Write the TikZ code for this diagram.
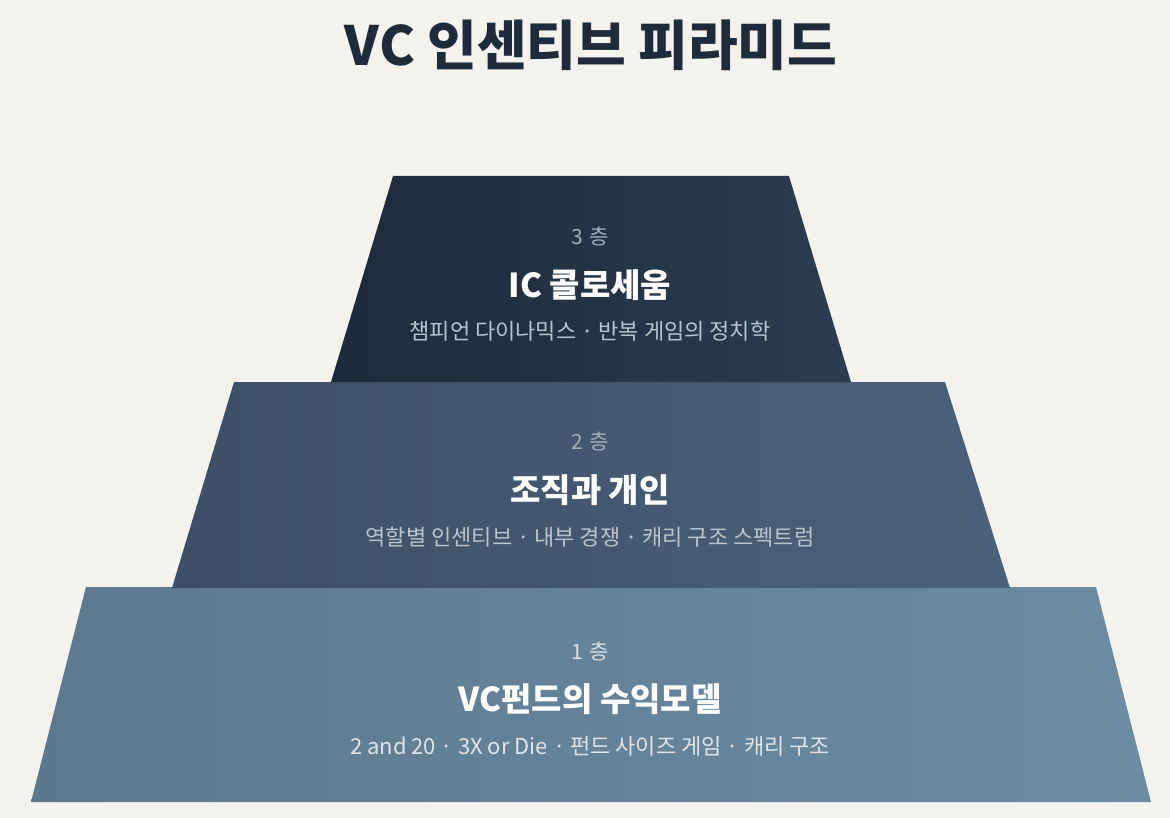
\documentclass[tikz,border=0pt]{standalone}
\usepackage{fontspec}
\setmainfont{Noto Sans CJK KR}
\definecolor{paper}{HTML}{F4F2ED}
\definecolor{ink}{HTML}{1E2B3A}
\definecolor{topL}{HTML}{1D2A39}
\definecolor{topR}{HTML}{2C3D51}
\definecolor{midL}{HTML}{3C4F66}
\definecolor{midR}{HTML}{4B617B}
\definecolor{baseL}{HTML}{5D788E}
\definecolor{baseR}{HTML}{6B8DA4}
\definecolor{tagtxt}{HTML}{A3AEBA}
\definecolor{subtxt}{HTML}{BAC4CE}

\begin{document}
\begin{tikzpicture}[
  x=1pt, y=-1pt,
  tier/.style={draw=none},
  tag/.style={text=tagtxt,font=\fontsize{21}{24}\selectfont},
  head/.style={text=white,font=\fontsize{33}{38}\selectfont\bfseries},
  note/.style={text=subtxt,font=\fontsize{22}{26}\selectfont}
]

% ------------------------------------------------------------------
% Page and title
% ------------------------------------------------------------------
\fill[paper] (0,0) rectangle (1170,818);
\node[text=ink,font=\fontsize{54}{62}\selectfont\bfseries] (title) at (591,45) {VC 인센티브 피라미드};

% ------------------------------------------------------------------
% Tier 1 (base)
% ------------------------------------------------------------------
\coordinate (C1) at (31,802);
\coordinate (C2) at (1151,802);
\coordinate (C3) at (1096,587);
\coordinate (C4) at (86,587);
\shade[tier,left color=baseL,right color=baseR] (C1)--(C2)--(C3)--(C4)--cycle;

\node[tag,text=tagtxt!40!white] (tag1) at (590,652) {1\,\,층};
\node[head] (head1) at (590,699) {VC펀드의 수익모델};
\node[note,text=subtxt!45!white] (note1) at (590,746) {2 and 20 · 3X or Die · 펀드 사이즈 게임 · 캐리 구조};

% ------------------------------------------------------------------
% Tier 2
% ------------------------------------------------------------------
\coordinate (B1) at (172,588);
\coordinate (B2) at (1010,588);
\coordinate (B3) at (945,382);
\coordinate (B4) at (234,382);
\shade[tier,left color=midL,right color=midR] (B1)--(B2)--(B3)--(B4)--cycle;

\node[tag] (tag2) at (590,442) {2\,\,층};
\node[head] (head2) at (590,490) {조직과 개인};
\node[note] (note2) at (590,537) {역할별 인센티브 · 내부 경쟁 · 캐리 구조 스펙트럼};

% ------------------------------------------------------------------
% Tier 3 (top)
% ------------------------------------------------------------------
\coordinate (A1) at (331,382);
\coordinate (A2) at (851,382);
\coordinate (A3) at (789,176);
\coordinate (A4) at (393,176);
\shade[tier,left color=topL,right color=topR] (A1)--(A2)--(A3)--(A4)--cycle;

\node[tag] (tag3) at (590,237) {3\,\,층};
\node[head] (head3) at (590,285) {IC 콜로세움};
\node[note] (note3) at (590,331) {챔피언 다이나믹스 · 반복 게임의 정치학};

\end{tikzpicture}
\end{document}
